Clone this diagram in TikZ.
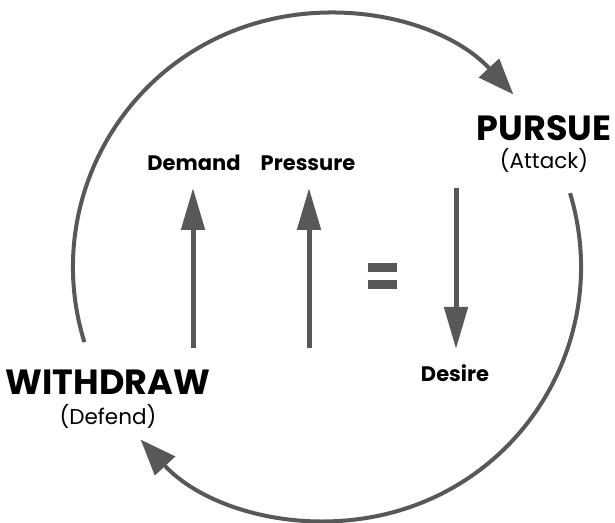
\documentclass[tikz,border=0pt]{standalone}
\usepackage{fontspec}
\setmainfont{Poppins}
\usetikzlibrary{arrows.meta,calc}
\definecolor{arrowgrey}{HTML}{58585A}
\begin{document}
\begin{tikzpicture}[x=1pt,y=1pt,
  cyc/.style={draw=arrowgrey,line width=4pt,-{Triangle[length=36pt,width=27pt]}},
  vert/.style={draw=arrowgrey,line width=5pt,-{Triangle[length=42pt,width=23pt]}},
  big/.style={font=\fontsize{35}{38}\selectfont\bfseries,inner sep=0pt},
  small/.style={font=\fontsize{21.5}{24}\selectfont,inner sep=0pt},
  lab/.style={font=\fontsize{21}{23}\selectfont\bfseries,inner sep=0pt}]
\useasboundingbox (0,0) rectangle (615,522);
\coordinate (c) at (327,255);
% cycle arcs
\draw[cyc] ($(c)+(197.2:254pt)$) arc[start angle=197.2,end angle=42.8,radius=254pt];
\draw[cyc] ($(c)+(16.9:254pt)$) arc[start angle=16.9,end angle=-137.2,radius=254pt];
% labels
\node[big] (withdraw) at (108,140) {WITHDRAW};
\node[small] (defend) at (108,106) {(Defend)};
\node[big] (pursue) at (544,394) {PURSUE};
\node[small] (attack) at (544,362) {(Attack)};
\node[lab] (demand) at (194,359) {Demand};
\node[lab] (pressure) at (308,359) {Pressure};
\node[lab] (desire) at (455,149) {Desire};
% vertical arrows
\coordinate (d0) at (193,174);
\coordinate (d1) at (193,334);
\coordinate (p0) at (309,174);
\coordinate (p1) at (309,334);
\coordinate (s0) at (456,334);
\coordinate (s1) at (456,173);
\draw[vert] (d0) -- (d1);
\draw[vert] (p0) -- (p1);
\draw[vert] (s0) -- (s1);
% equals sign
\fill[arrowgrey] (368,250) rectangle (397,259);
\fill[arrowgrey] (368,233) rectangle (397,242);
\end{tikzpicture}
\end{document}
